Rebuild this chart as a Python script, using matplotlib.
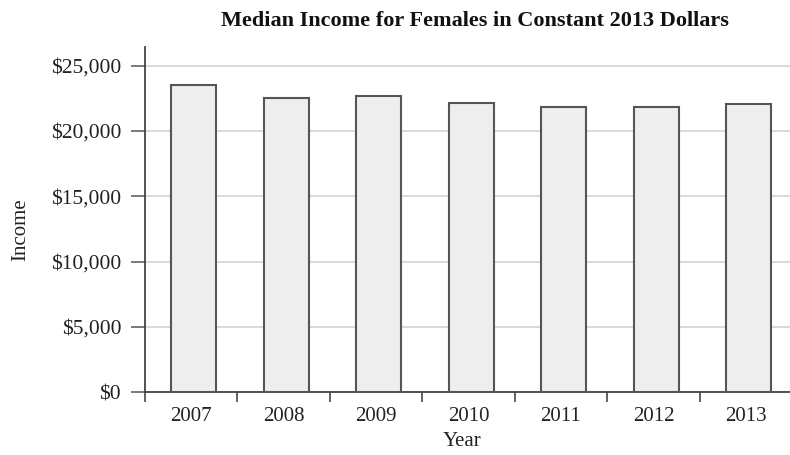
import matplotlib
matplotlib.use("Agg")
import matplotlib.pyplot as plt
import numpy as np
from matplotlib.ticker import FuncFormatter, FixedLocator

years = ["2007", "2008", "2009", "2010", "2011", "2012", "2013"]
income = [23500, 22500, 22700, 22150, 21800, 21800, 22050]
yticks = [0, 5000, 10000, 15000, 20000, 25000]

plt.rcParams['font.family'] = ['Liberation Serif', 'DejaVu Serif']

W, H = 790, 455
fig = plt.figure(figsize=(W / 100, H / 100), dpi=100)
left, right, top, bottom = 144.7, 144.7 + 7 * 92.5, 47, 392.2
ax = fig.add_axes([left / W, 1 - bottom / H, (right - left) / W, (bottom - top) / H])

x = np.arange(len(years))
ax.set_axisbelow(True)
ax.yaxis.grid(True, color='#cfcfcf', linewidth=1.1)
ax.bar(x + 0.03, income, width=0.49, color='#eeeeee', edgecolor='#555555', linewidth=1.5, zorder=3)

ax.set_xlim(-0.5, len(years) - 0.5)
ax.set_ylim(0, 26430)
ax.set_yticks(yticks)
ax.yaxis.set_major_formatter(FuncFormatter(lambda v, p: "${:,.0f}".format(v)))
ax.set_xticks(x)
ax.set_xticklabels(years)
ax.xaxis.set_minor_locator(FixedLocator(np.arange(-0.5, len(years), 1.0)))
ax.tick_params(axis='x', which='major', length=0, pad=11, labelsize=15, colors='#222222')
ax.tick_params(axis='x', which='minor', length=7, width=1.3, color='#555555', direction='out')
ax.tick_params(axis='y', length=10, width=1.1, color='#555555', labelsize=15.5, labelcolor='#222222', pad=7)

for s in ['top', 'right']:
    ax.spines[s].set_visible(False)
for s in ['left', 'bottom']:
    ax.spines[s].set_color('#444444')
    ax.spines[s].set_linewidth(1.3)

fig.text(475 / W, 1 - 21 / H, "Median Income for Females in Constant 2013 Dollars",
         fontsize=16, fontweight='bold', color='#111111', ha='center', va='center')
fig.text(462 / W, 1 - 441 / H, "Year", fontsize=15, color='#222222', ha='center', va='center')
fig.text(21 / W, 1 - 230 / H, "Income", fontsize=15, color='#222222', ha='center', va='center',
         rotation=90)

fig.savefig("out.png", dpi=100)
